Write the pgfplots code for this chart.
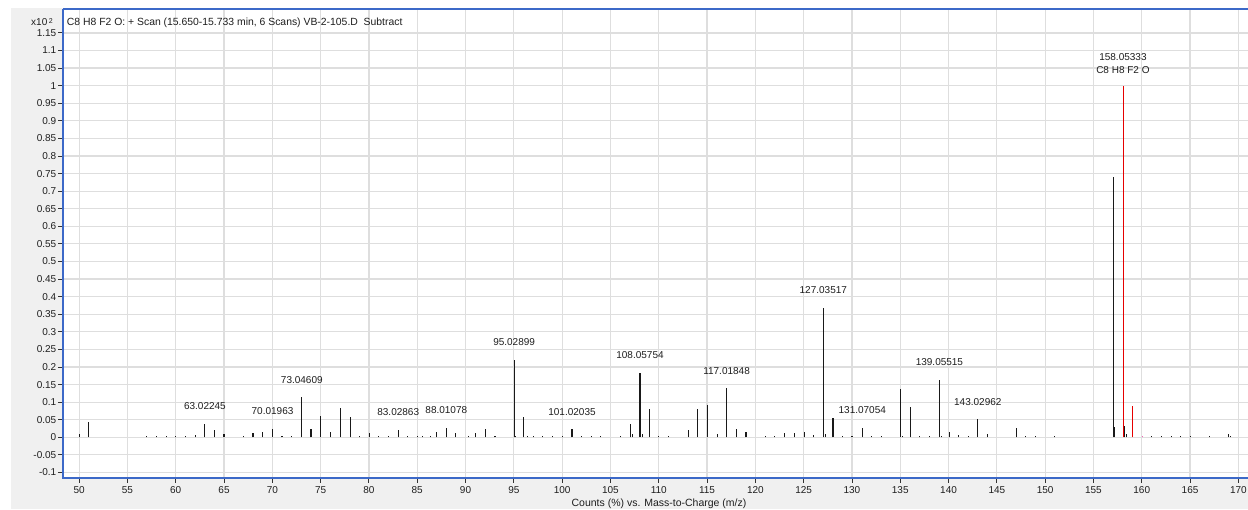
\documentclass[border=0pt]{standalone}
\usepackage{fontspec}
\setmainfont{Liberation Sans}
\usepackage{pgfplots}
\pgfplotsset{compat=1.18}
\usetikzlibrary{calc,backgrounds}
\definecolor{axblue}{RGB}{60,105,200}
\definecolor{bggrey}{RGB}{240,240,240}
\definecolor{gridgrey}{RGB}{222,222,222}
\definecolor{pkred}{RGB}{230,0,0}
\definecolor{txt}{RGB}{30,30,30}
\tikzset{lbl/.style={anchor=base, yshift=14pt, inner sep=0pt, font=\fontsize{10}{12}\selectfont, text=txt}}
\begin{document}
\begin{tikzpicture}[x=1pt,y=1pt]
\begin{axis}[
  name=ax,
  scale only axis, width=1184.7pt, height=468.5pt,
  xmin=48.36, xmax=171.0, ymin=-0.1143, ymax=1.218,
  axis background/.style={fill=white},
  axis line style={draw=none},
  tick align=outside, tick pos=left, major tick length=5pt,
  tick style={black!80, line width=0.9pt},
  grid=major, grid style={gridgrey, line width=1.2pt},
  xtick={50,55,...,170},
  ytick={-0.1,-0.05,0,0.05,0.1,0.15,0.2,0.25,0.3,0.35,0.4,0.45,0.5,0.55,0.6,0.65,0.7,0.75,0.8,0.85,0.9,0.95,1,1.05,1.1,1.15},
  yticklabels={-0.1,-0.05,0,0.05,0.1,0.15,0.2,0.25,0.3,0.35,0.4,0.45,0.5,0.55,0.6,0.65,0.7,0.75,0.8,0.85,0.9,0.95,1,1.05,1.1,1.15},
  /pgf/number format/assume math mode=true,
  every tick label/.append style={font=\fontsize{10}{12}\selectfont, text=txt},
  xticklabel style={yshift=-0.5pt},
  yticklabel style={xshift=1.5pt},
  clip=false,
]
\addplot[ycomb, black!90, line width=1.1pt] coordinates {
(50.0,0.010) (51.0,0.043)
(57.0,0.004) (58.0,0.003) (59.0,0.004) (60.0,0.004) (61.0,0.004) (62.0,0.007)
(63.02,0.038) (64.03,0.020) (65.0,0.008)
(67.0,0.004) (68.0,0.012) (69.0,0.016) (70.02,0.025)
(71.0,0.004) (72.0,0.003)
(73.05,0.114) (74.0,0.025) (75.02,0.061) (76.03,0.016) (77.04,0.083) (78.05,0.057)
(79.05,0.004) (80.05,0.012) (81.0,0.005) (82.0,0.004) (83.03,0.021) (84.0,0.003)
(85.0,0.004) (85.5,0.003) (86.4,0.005) (87.0,0.016) (88.01,0.027) (89.0,0.012)
(90.3,0.003) (91.05,0.011) (92.05,0.024) (93.05,0.003)
(95.03,0.220) (95.2,0.005) (96.03,0.059)
(96.4,0.004) (97.0,0.003) (98.0,0.003) (99.0,0.003) (100.0,0.003)
(101.02,0.023) (102.0,0.003) (103.0,0.003) (104.0,0.003)
(106.05,0.004) (107.05,0.037) (107.3,0.010) (108.06,0.184) (108.3,0.008) (109.05,0.080)
(110.0,0.003) (111.0,0.003)
(113.05,0.020) (114.03,0.080) (115.05,0.092) (116.05,0.010) (117.02,0.140) (118.03,0.023) (119.03,0.014)
(121.05,0.004) (122.0,0.003) (123.05,0.011) (124.05,0.011) (125.05,0.014) (126.05,0.006)
(127.035,0.369) (127.3,0.010) (128.04,0.054) (129.05,0.004) (130.0,0.003)
(131.07,0.027) (132.05,0.003) (133.05,0.003)
(135.05,0.137) (135.2,0.004) (136.05,0.087) (137.0,0.004) (138.0,0.003)
(139.055,0.164) (139.3,0.005) (140.06,0.016) (141.05,0.007) (142.05,0.004)
(143.03,0.052) (144.05,0.009)
(147.05,0.026) (148.0,0.004) (149.0,0.005) (151.0,0.004)
(157.05,0.740) (157.2,0.028) (158.2,0.033) (158.4,0.008)
(161.05,0.003) (162.05,0.003) (163.05,0.003) (164.05,0.003) (165.05,0.003) (167.0,0.003)
(169.0,0.009) (169.2,0.004)
};
\addplot[ycomb, pkred, line width=0.8pt] coordinates {(158.053,1.0)};
\addplot[ycomb, pkred, line width=1.4pt] coordinates {(159.05,0.090)};
\addplot[ycomb, magenta!60, line width=1pt] coordinates {(160.05,0.003)};
\node[lbl] at (axis cs:63.02,0.038) {63.02245};
\node[lbl] at (axis cs:70.02,0.025) {70.01963};
\node[lbl] at (axis cs:73.05,0.114) {73.04609};
\node[lbl] at (axis cs:83.03,0.021) {83.02863};
\node[lbl] at (axis cs:88.01,0.027) {88.01078};
\node[lbl] at (axis cs:95.03,0.220) {95.02899};
\node[lbl] at (axis cs:101.02,0.023) {101.02035};
\node[lbl] at (axis cs:108.06,0.184) {108.05754};
\node[lbl] at (axis cs:117.02,0.140) {117.01848};
\node[lbl] at (axis cs:127.035,0.369) {127.03517};
\node[lbl] at (axis cs:131.07,0.027) {131.07054};
\node[lbl] at (axis cs:139.055,0.164) {139.05515};
\node[lbl] at (axis cs:143.03,0.052) {143.02962};
\node[lbl, yshift=-2pt] at (axis cs:158.053,1.0) {C8 H8 F2 O};
\node[lbl, yshift=11pt] at (axis cs:158.053,1.0) {158.05333};
\draw[axblue, line width=1.8pt] (rel axis cs:0,1) -- (rel axis cs:1,1);
\draw[axblue, line width=2pt] (rel axis cs:0,1) -- (rel axis cs:0,0) -- (rel axis cs:1,0);
\end{axis}
\coordinate (O) at ($(ax.south west)+(-63.3,-31.5)$);
\pgfresetboundingbox
\useasboundingbox (O) rectangle ++(1248,509);
\begin{scope}[on background layer]
\fill[white] (O) rectangle ++(1248,509);
\fill[bggrey] ($(O)+(11,0)$) rectangle ($(O)+(1248,501)$);
\end{scope}
\node[anchor=base west, inner sep=0pt, font=\fontsize{10.4}{12}\selectfont, text=txt] at ($(O)+(66.7,483)$) {C8 H8 F2 O: + Scan (15.650-15.733 min, 6 Scans) VB-2-105.D\ \ Subtract};
\node[anchor=base west, inner sep=0pt, font=\fontsize{10}{12}\selectfont, text=txt] at ($(O)+(31,483)$) {x10\,\raisebox{2.5pt}{\fontsize{7}{8}\selectfont 2}};
\node[anchor=base, inner sep=0pt, font=\fontsize{10.5}{12}\selectfont, text=txt] at ($(O)+(659,3)$) {Counts (\%) vs. Mass-to-Charge (m/z)};
\end{tikzpicture}
\end{document}
